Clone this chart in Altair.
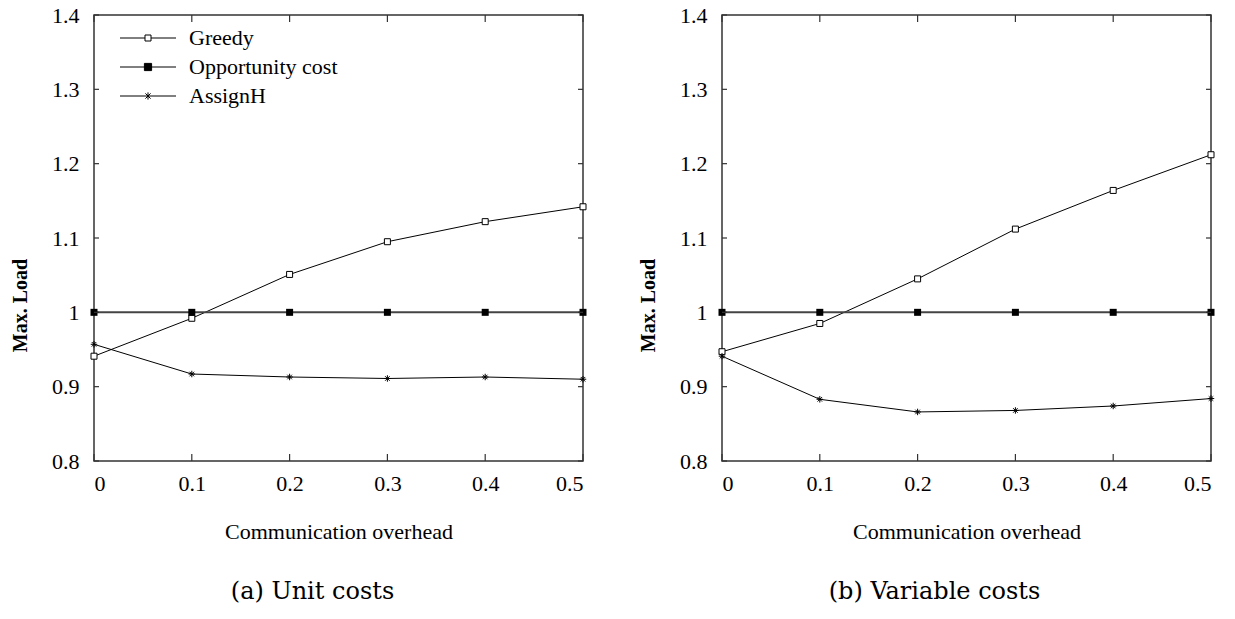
import altair as alt
import pandas as pd

# Communication overhead (x) and the three heuristics compared
overhead = [0.0, 0.1, 0.2, 0.3, 0.4, 0.5]
series_names = ["Greedy", "Opportunity cost", "AssignH"]

# (a) Unit costs
unit_greedy = [0.941, 0.992, 1.051, 1.095, 1.122, 1.142]
unit_opportunity = [1.0, 1.0, 1.0, 1.0, 1.0, 1.0]
unit_assignh = [0.957, 0.917, 0.913, 0.911, 0.913, 0.910]

# (b) Variable costs
var_greedy = [0.947, 0.985, 1.045, 1.112, 1.164, 1.212]
var_opportunity = [1.0, 1.0, 1.0, 1.0, 1.0, 1.0]
var_assignh = [0.941, 0.883, 0.866, 0.868, 0.874, 0.884]

# Axis tick positions
x_ticks = [0.0, 0.1, 0.2, 0.3, 0.4, 0.5]
y_ticks = [0.8, 0.9, 1.0, 1.1, 1.2, 1.3, 1.4]

SERIF = "Liberation Serif"
W, H = 489, 446

XS = alt.Scale(domain=[0, 0.5], nice=False, zero=False)
YS = alt.Scale(domain=[0.8, 1.4], nice=False, zero=False)
X_AXIS = alt.Axis(values=x_ticks, format="~g", title="Communication overhead",
                  domain=False, ticks=False, grid=False, labelPadding=12,
                  titlePadding=27)
Y_AXIS = alt.Axis(values=y_ticks, format="~g", title="Max. Load",
                  domain=False, ticks=False, grid=False, labelPadding=15,
                  titleFontWeight="bold", titleFontSize=20, titleAngle=270,
                  titleX=-68, titleY=290, titleAlign="center",
                  titleBaseline="alphabetic")

# Legend glyphs: a short line with the series marker in its middle.
# Unit box is 8px (symbolSize 64), so one path unit is 4px.
LEGEND_PATHS = [
    "M-7,0L-0.75,0M0.75,0L7,0M-0.75,-0.75L0.75,-0.75L0.75,0.75L-0.75,0.75Z",
    "M-7,0L7,0M-0.9,-0.9L0.9,-0.9L0.9,0.9L-0.9,0.9Z",
    "M-7,0L7,0M0,-0.9L0,0.9M-0.65,-0.65L0.65,0.65M-0.65,0.65L0.65,-0.65",
]
ASTERISK = "M-1,0L1,0M0,-1L0,1M-0.7,-0.7L0.7,0.7M-0.7,0.7L0.7,-0.7"

LEGEND = dict(orient="none", legendX=43, legendY=12, title=None,
              symbolSize=64, symbolStrokeColor="black", symbolStrokeWidth=1,
              symbolOpacity=1, labelFont=SERIF, labelFontSize=22,
              labelColor="black", labelOffset=30, rowPadding=7, padding=0,
              labelLimit=400)


def panel(values, caption, shift):
    rows = []
    for name, vals in zip(series_names, values):
        for x, v in zip(overhead, vals):
            rows.append({"x": x, "y": v, "series": name})
    df = pd.DataFrame(rows)
    base = alt.Chart(df)
    xe = alt.X("x:Q", scale=XS, axis=X_AXIS)
    ye = alt.Y("y:Q", scale=YS, axis=Y_AXIS)

    layers = []
    # lines
    for name in series_names:
        thick = name == "Opportunity cost"
        layers.append(
            base.transform_filter(alt.datum.series == name)
            .mark_line(color="#444" if thick else "black",
                       strokeWidth=2 if thick else 1)
            .encode(xe, ye)
        )
    # markers
    layers.append(
        base.transform_filter(alt.datum.series == "Greedy")
        .mark_point(shape="square", size=36, fill="white", stroke="black",
                    strokeWidth=1, opacity=1)
        .encode(xe, ye)
    )
    layers.append(
        base.transform_filter(alt.datum.series == "Opportunity cost")
        .mark_point(shape="square", size=49, filled=True, color="black",
                    opacity=1)
        .encode(xe, ye)
    )
    layers.append(
        base.transform_filter(alt.datum.series == "AssignH")
        .mark_point(shape=ASTERISK, size=42, filled=False, stroke="black",
                    strokeWidth=1, opacity=1)
        .encode(xe, ye)
    )

    # inward ticks on all four sides of the frame
    xt = alt.Chart(pd.DataFrame({"x": x_ticks}))
    yt = alt.Chart(pd.DataFrame({"y": y_ticks}))
    tick_style = dict(color="#333", strokeWidth=1.2)
    layers.append(xt.mark_rule(y2Offset=-7, **tick_style).encode(
        xe, y=alt.YDatum(0.8, scale=YS, axis=Y_AXIS), y2=alt.Y2Datum(0.8)))
    layers.append(xt.mark_rule(y2Offset=7, **tick_style).encode(
        xe, y=alt.YDatum(1.4, scale=YS, axis=Y_AXIS), y2=alt.Y2Datum(1.4)))
    layers.append(yt.mark_rule(x2Offset=5, **tick_style).encode(
        ye, x=alt.XDatum(0.0, scale=XS, axis=X_AXIS), x2=alt.X2Datum(0.0)))
    layers.append(yt.mark_rule(x2Offset=-5, **tick_style).encode(
        ye, x=alt.XDatum(0.5, scale=XS, axis=X_AXIS), x2=alt.X2Datum(0.5)))

    # legend drawn from an empty layer with explicit domains
    layers.append(
        base.transform_filter("false")
        .mark_point(opacity=1, strokeWidth=1)
        .encode(
            xe, ye,
            shape=alt.Shape("series:N",
                            scale=alt.Scale(domain=series_names, range=LEGEND_PATHS),
                            legend=alt.Legend(**LEGEND)),
            fill=alt.Fill("series:N",
                          scale=alt.Scale(domain=series_names,
                                          range=["white", "black", "transparent"]),
                          legend=alt.Legend(**LEGEND)),
            stroke=alt.Stroke("series:N",
                              scale=alt.Scale(domain=series_names,
                                              range=["black", "black", "black"]),
                              legend=alt.Legend(**LEGEND)),
        )
    )

    return alt.layer(*layers).properties(
        width=W, height=H,
        title=alt.TitleParams(caption, orient="bottom", anchor="middle", dx=shift,
                              offset=38, font="DejaVu Serif", fontSize=24,
                              fontWeight="normal", color="black"),
    )


left = panel([unit_greedy, unit_opportunity, unit_assignh], "(a) Unit costs", -26)
right = panel([var_greedy, var_opportunity, var_assignh], "(b) Variable costs", -32)

chart = (
    alt.hconcat(left, right, spacing=48)
    .properties(padding={"left": 9, "top": 3, "right": 5, "bottom": 5},
                background="white")
    .configure_view(stroke="#333", strokeWidth=1.5)
    .configure_axis(labelFont=SERIF, labelFontSize=22, labelColor="black",
                    titleFont=SERIF, titleFontSize=22, titleColor="black",
                    titleFontWeight="normal")
)

chart.save("out.html", embed_options={"renderer": "svg", "actions": False})
